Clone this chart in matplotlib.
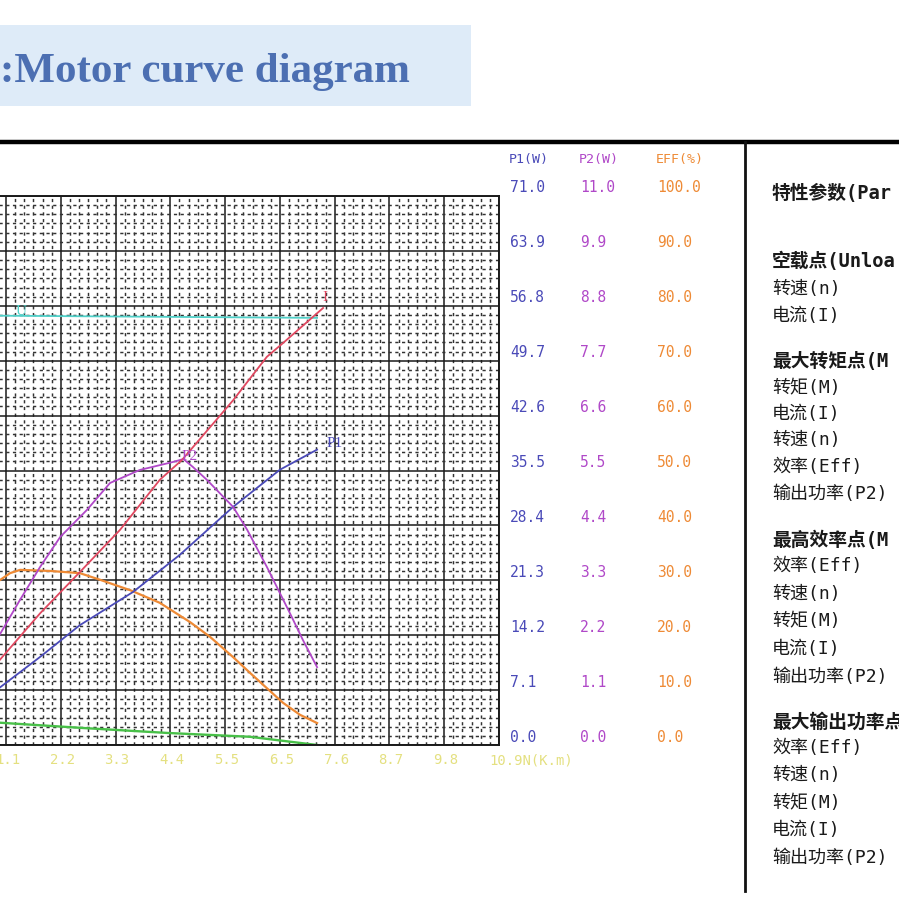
import matplotlib
matplotlib.use("Agg")
import matplotlib.pyplot as plt
from matplotlib.patches import Rectangle
from matplotlib.lines import Line2D
import matplotlib.transforms as mtransforms
import numpy as np

# ---- data ----
# torque axis (N.m), only 1.1 .. 10.9 is visible, 0 is cut off on the left
x_ticks = [1.09, 2.18, 3.27, 4.36, 5.45, 6.54, 7.63, 8.72, 9.81, 10.9]
x_labels = ["1.1", "2.2", "3.3", "4.4", "5.5", "6.5", "7.6", "8.7", "9.8", "10.9N(K.m)"]

p1_labels = ["71.0", "63.9", "56.8", "49.7", "42.6", "35.5", "28.4", "21.3", "14.2", "7.1", "0.0"]
p2_labels = ["11.0", "9.9", "8.8", "7.7", "6.6", "5.5", "4.4", "3.3", "2.2", "1.1", "0.0"]
eff_labels = ["100.0", "90.0", "80.0", "70.0", "60.0", "50.0", "40.0", "30.0", "20.0", "10.0", "0.0"]

P1_MAX = 71.0
P2_MAX = 11.0
EFF_MAX = 100.0

# input power P1 (W)
p1_torque = [0.90, 1.77, 2.56, 3.62, 4.55, 5.61, 6.54, 7.28]
p1_watt = [7.1, 11.4, 15.5, 19.8, 24.6, 30.8, 35.6, 38.2]

# output power P2 (W)
p2_torque = [0.90, 1.37, 1.77, 2.17, 2.70, 3.16, 3.75, 4.41, 4.62, 4.81, 5.09,
             5.61, 5.89, 6.28, 6.74, 7.00, 7.28]
p2_watt = [2.10, 2.91, 3.57, 4.17, 4.71, 5.25, 5.51, 5.67, 5.73, 5.57, 5.31,
           4.77, 4.31, 3.57, 2.64, 2.10, 1.56]

# efficiency (%)
eff_torque = [0.90, 1.17, 1.37, 1.97, 2.56, 2.96, 3.56, 4.15, 4.75, 5.15, 5.61,
              5.95, 6.60, 6.94, 7.28]
eff_pct = [29.6, 31.3, 31.9, 31.7, 31.3, 30.1, 28.2, 25.9, 22.4, 19.7, 16.0,
           13.1, 7.7, 5.5, 4.0]

# current and speed: their scales are cut off, so these are in grid divisions (0..10)
i_torque = [0.90, 1.77, 2.56, 3.36, 4.15, 4.59, 5.61, 6.28, 6.60, 7.40]
i_div = [1.48, 2.40, 3.15, 3.92, 4.83, 5.19, 6.28, 7.07, 7.32, 7.96]

n_torque = [0.90, 2.62, 4.29, 5.94, 7.28]
n_div = [0.41, 0.31, 0.22, 0.15, 0.0]

u_torque = [0.90, 7.28]
u_div = [7.82, 7.78]

panel_rows = [
    ("特性参数(Par", True, 193),
    ("空载点(Unloa", True, 261),
    ("转速(n)", False, 289),
    ("电流(I)", False, 316),
    ("最大转矩点(M", True, 361),
    ("转矩(M)", False, 388),
    ("电流(I)", False, 414),
    ("转速(n)", False, 440),
    ("效率(Eff)", False, 467),
    ("输出功率(P2)", False, 494),
    ("最高效率点(M", True, 540),
    ("效率(Eff)", False, 566),
    ("转速(n)", False, 594),
    ("转矩(M)", False, 621),
    ("电流(I)", False, 649),
    ("输出功率(P2)", False, 677),
    ("最大输出功率点", True, 722),
    ("效率(Eff)", False, 748),
    ("转速(n)", False, 775),
    ("转矩(M)", False, 803),
    ("电流(I)", False, 830),
    ("输出功率(P2)", False, 858),
]

C_P1 = "#4a4ab8"
C_P2 = "#b048c8"
C_EFF = "#ee8a35"
C_I = "#e04860"
C_N = "#48c048"
C_U = "#50d0c8"
C_X = "#e4e080"

W = H = 899.0
fig = plt.figure(figsize=(8.99, 8.99), dpi=100)
fig.patch.set_facecolor("white")

def fx(px):
    return px / W

def fy(py):
    return 1 - py / H

# title box
fig.patches.append(Rectangle((0, fy(106)), fx(471), (106 - 25) / H,
                             transform=fig.transFigure, facecolor="#deebf8",
                             edgecolor="none", zorder=0))
fig.text(fx(0), fy(72), ":Motor curve diagram", fontsize=31, fontweight="bold",
         family="Liberation Serif", color="#4c6fb2", va="center", ha="left")

# frame lines
fig.add_artist(Line2D([0, 1], [fy(141.5), fy(141.5)], color="black", lw=3.2,
                      transform=fig.transFigure))
fig.add_artist(Line2D([fx(745), fx(745)], [fy(141.5), fy(891)], color="#111111",
                      lw=2.0, transform=fig.transFigure))

# chart axes (x=0 sits off the left edge of the picture)
x0_px = 6 - 1.09 * (493 / 9.81)
x1_px = 499
top_px, bot_px = 196, 745
ax = fig.add_axes([fx(x0_px), fy(bot_px), (x1_px - x0_px) / W, (bot_px - top_px) / H])
ax.set_xlim(0, 10.9)
ax.set_ylim(0, 10)
ax.set_xticks(np.arange(0, 10.91, 1.09))
ax.set_yticks(np.arange(0, 10.01, 1))
ax.set_xticks(np.arange(0, 10.9, 1.09 / 6), minor=True)
ax.set_yticks(np.arange(0, 10, 1 / 6), minor=True)
ax.grid(which="major", color="#1a1a1a", lw=1.1)
ax.grid(which="minor", color="#333333", lw=1.05, linestyle=(0, (2.2, 2.4)))
ax.tick_params(which="both", length=0, labelbottom=False, labelleft=False)
ax.set_axisbelow(True)
for s in ax.spines.values():
    s.set_color("#1a1a1a")
    s.set_linewidth(1.4)

lw = 1.3
ax.plot(u_torque, u_div, color=C_U, lw=lw)
ax.plot(n_torque, n_div, color=C_N, lw=1.7)
ax.plot(eff_torque, np.array(eff_pct) / EFF_MAX * 10, color=C_EFF, lw=1.6)
ax.plot(p1_torque, np.array(p1_watt) / P1_MAX * 10, color=C_P1, lw=lw)
ax.plot(p2_torque, np.array(p2_watt) / P2_MAX * 10, color=C_P2, lw=lw)
ax.plot(i_torque, i_div, color=C_I, lw=lw)

mono = "DejaVu Sans Mono"
ax.text(1.40, 7.90, "U", color=C_U, fontsize=11, family="Liberation Serif", ha="center", va="center")
ax.text(7.44, 8.15, "I", color=C_I, fontsize=11, family="Liberation Serif", ha="center", va="center")
ax.text(7.62, 5.50, "P1", color=C_P1, fontsize=11, family="Liberation Serif", ha="center", va="center")
ax.text(4.75, 5.25, "P2", color=C_P2, fontsize=11, family="Liberation Serif", ha="center", va="center")

# x tick labels (yellow)
xt = mtransforms.blended_transform_factory(ax.transData, fig.transFigure)
for v, lab in zip(x_ticks, x_labels):
    if lab.startswith("10.9"):
        ax.text(v - 0.2, fy(760), lab, transform=xt, color=C_X, fontsize=10,
                family=mono, ha="left", va="center", clip_on=False)
    else:
        ax.text(v + 0.03, fy(760), lab, transform=xt, color=C_X, fontsize=10,
                family=mono, ha="center", va="center", clip_on=False)

# right-hand scales
yt = mtransforms.blended_transform_factory(fig.transFigure, ax.transData)
yt = mtransforms.offset_copy(yt, fig=fig, x=0, y=8, units="dots")
levels = np.arange(10, -1, -1)
for lv, a, b, c in zip(levels, p1_labels, p2_labels, eff_labels):
    ax.text(fx(510), lv, a, transform=yt, color=C_P1, fontsize=10.5, family=mono,
            ha="left", va="center", clip_on=False)
    ax.text(fx(580), lv, b, transform=yt, color=C_P2, fontsize=10.5, family=mono,
            ha="left", va="center", clip_on=False)
    ax.text(fx(657), lv, c, transform=yt, color=C_EFF, fontsize=10.5, family=mono,
            ha="left", va="center", clip_on=False)

fig.text(fx(509), fy(160), "P1(W)", color=C_P1, fontsize=9.5, family=mono, ha="left", va="center")
fig.text(fx(579), fy(160), "P2(W)", color=C_P2, fontsize=9.5, family=mono, ha="left", va="center")
fig.text(fx(656), fy(160), "EFF(%)", color=C_EFF, fontsize=9.5, family=mono, ha="left", va="center")

# parameter panel: ascii from a mono face, CJK falls back to Noto
panel_font = ["DejaVu Sans Mono", "Noto Sans CJK SC"]
for txt, bold, py in panel_rows:
    fig.text(fx(772), fy(py), txt, family=panel_font,
             fontsize=13.5 if bold else 13,
             fontweight="bold" if bold else "normal", color="#1a1a1a",
             ha="left", va="center")

fig.savefig("out.png", dpi=100)
